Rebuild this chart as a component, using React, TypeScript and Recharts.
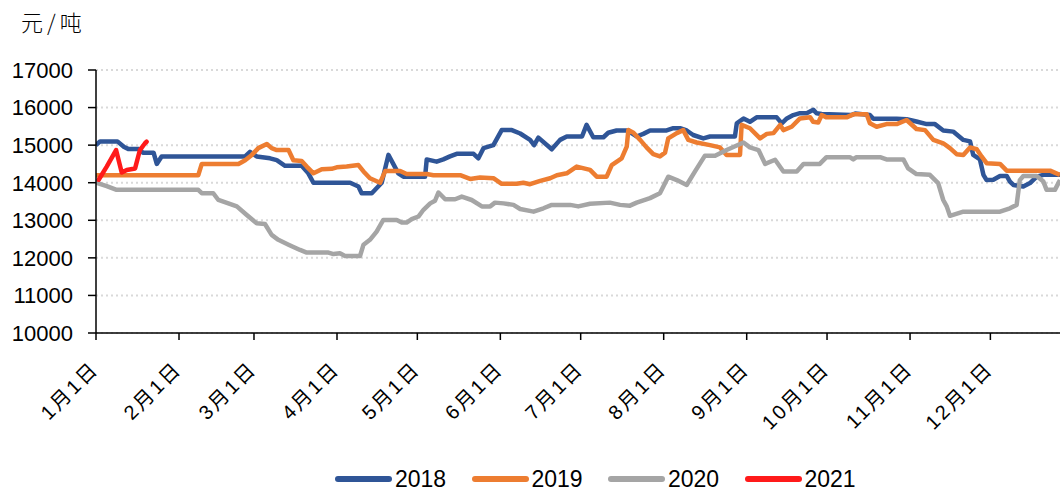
import React from "react";
import { LineChart, Line, XAxis, YAxis, CartesianGrid, Legend } from "recharts";

// ---- Axis definitions ----
const tickDays = [0, 31, 59, 90, 120, 151, 181, 212, 243, 273, 304, 334];
const tickLabels = ["1月1日", "2月1日", "3月1日", "4月1日", "5月1日", "6月1日", "7月1日", "8月1日", "9月1日", "10月1日", "11月1日", "12月1日"];
const yTicks = [10000, 11000, 12000, 13000, 14000, 15000, 16000, 17000];
const unitLabel = "元/吨";

// ---- 2018 ----
const days2018 = [0, 1.5, 8, 10.5, 12, 16, 17.5, 21.5, 22.7, 24.5, 55.7, 57.5, 60, 65, 67.5, 70.6, 76.8, 79.3, 81.2, 94.9, 98, 99.2, 103, 106.7, 109.2, 112.9, 114.8, 122.9, 123.5, 127.2, 129.7, 132.2, 134.7, 141, 142.8, 144.7, 148.4, 151.5, 155.3, 158.4, 162.1, 163.6, 165.2, 170.2, 173.3, 175.8, 181.5, 183.2, 185.7, 189.5, 191.3, 194.4, 198.8, 200, 201.9, 204.4, 206.9, 213.1, 215.6, 218.1, 220.6, 223, 226.8, 229.3, 238.6, 239.3, 241.8, 244.2, 246.7, 254.2, 256.1, 258, 260.4, 262.9, 265.4, 267.9, 269.1, 271, 282, 283.5, 289, 290.3, 299, 302.7, 306.4, 310.2, 313.3, 316.4, 320.1, 323.9, 326.4, 327.6, 330.1, 331.4, 332.6, 335.1, 337.6, 340.1, 341.3, 342.6, 346.3, 348.8, 351.3, 353.8, 360];
const values2018 = [15000, 15100, 15100, 14950, 14900, 14900, 14800, 14800, 14500, 14700, 14700, 14820, 14700, 14650, 14600, 14450, 14450, 14250, 14000, 14000, 13900, 13720, 13720, 14000, 14740, 14250, 14160, 14160, 14620, 14560, 14620, 14700, 14770, 14770, 14650, 14920, 15000, 15400, 15400, 15310, 15140, 15000, 15200, 14890, 15140, 15230, 15230, 15540, 15210, 15210, 15330, 15390, 15390, 15320, 15230, 15300, 15390, 15390, 15450, 15450, 15390, 15270, 15180, 15230, 15230, 15580, 15710, 15620, 15740, 15740, 15580, 15710, 15800, 15850, 15850, 15940, 15850, 15830, 15800, 15840, 15800, 15700, 15700, 15690, 15630, 15560, 15560, 15390, 15360, 15140, 15100, 14740, 14620, 14210, 14070, 14080, 14180, 14180, 14030, 13940, 13900, 13990, 14160, 14210, 14210];

// ---- 2019 ----
const days2019 = [0, 38.2, 39.5, 53.2, 55.7, 58.2, 60.6, 63.8, 65.6, 67.5, 71.9, 73.7, 76.8, 78.7, 81.2, 84.3, 88, 89.9, 93.6, 98, 99.9, 102.3, 106.1, 108, 113.6, 116, 123.5, 126, 136, 139.7, 143.4, 148.4, 151.5, 157.1, 159.6, 162.1, 165.9, 169.6, 172.1, 175.8, 179.5, 184.5, 187, 190.7, 192.6, 196.3, 198.2, 198.8, 200.7, 203.2, 205.6, 208.1, 210.6, 212.5, 213.7, 216.9, 219.3, 221.2, 224.3, 229.3, 233, 235.5, 240.5, 241.1, 244.2, 248, 250.5, 253, 255.5, 256.7, 259.8, 262.9, 266.7, 267.8, 269.7, 271, 272.8, 280.3, 282.8, 287.8, 289, 291.5, 295.2, 299, 302.7, 306.4, 309.6, 312.7, 316.4, 318.9, 321.4, 323.9, 326.4, 328.9, 330.7, 332.6, 337.6, 340.1, 356.3, 360];
const values2019 = [14200, 14200, 14500, 14500, 14600, 14740, 14920, 15030, 14920, 14870, 14870, 14600, 14580, 14430, 14250, 14360, 14370, 14410, 14430, 14470, 14300, 14120, 14000, 14310, 14310, 14230, 14230, 14200, 14200, 14100, 14140, 14120, 13970, 13970, 14000, 13960, 14050, 14120, 14200, 14250, 14430, 14340, 14160, 14160, 14470, 14650, 14960, 15400, 15330, 15140, 14940, 14760, 14700, 14800, 15180, 15320, 15400, 15140, 15070, 15000, 14940, 14740, 14740, 15540, 15450, 15180, 15300, 15320, 15540, 15400, 15490, 15710, 15740, 15620, 15600, 15800, 15740, 15740, 15820, 15820, 15580, 15490, 15560, 15560, 15670, 15430, 15400, 15140, 15050, 14920, 14760, 14740, 14940, 14890, 14700, 14520, 14500, 14320, 14320, 14210];

// ---- 2020 ----
const days2020 = [0, 4, 7.7, 38.2, 39.5, 43.8, 45.7, 52.6, 56.3, 60, 63.1, 65.6, 68.1, 71.9, 76.2, 78.7, 86.8, 88.7, 91.1, 93, 98.6, 99.9, 102.3, 104.8, 107.3, 112.3, 114.2, 116, 117.9, 120.4, 122.3, 124.8, 126.6, 127.9, 130.4, 134.1, 136.6, 140.3, 144.1, 147.2, 149, 152.2, 155.9, 158.4, 163.4, 167.1, 170.2, 177.1, 180.1, 184.5, 191.9, 195.7, 199.4, 201.9, 206.9, 210.6, 213.7, 216.9, 220.6, 223.7, 227.4, 231.2, 235.5, 241.8, 244.2, 247.4, 249.9, 253.6, 256.7, 261.7, 264.2, 270.3, 272.8, 281.5, 282.8, 284, 292.8, 295.2, 301.5, 303.3, 306.4, 311.4, 314.5, 316.4, 317.7, 318.9, 323.9, 337.6, 341.3, 343.8, 345, 346.3, 351.3, 353.8, 355, 358.1, 360];
const values2020 = [14000, 13910, 13810, 13810, 13720, 13720, 13540, 13370, 13140, 12920, 12900, 12610, 12480, 12350, 12210, 12140, 12140, 12100, 12120, 12050, 12050, 12350, 12480, 12700, 13010, 13010, 12940, 12940, 13030, 13100, 13280, 13450, 13520, 13740, 13560, 13560, 13630, 13540, 13370, 13370, 13470, 13450, 13410, 13300, 13230, 13320, 13410, 13410, 13370, 13440, 13470, 13410, 13390, 13470, 13590, 13720, 14160, 14070, 13940, 14300, 14720, 14720, 14870, 15070, 14940, 14870, 14500, 14610, 14300, 14300, 14500, 14500, 14680, 14680, 14620, 14680, 14680, 14620, 14620, 14380, 14230, 14210, 13990, 13540, 13370, 13120, 13230, 13230, 13320, 13410, 14070, 14180, 14180, 14030, 13810, 13810, 14070];

// ---- 2021 ----
const days2021 = [1, 4, 7.5, 9.6, 11.5, 14.6, 16.4, 18.3, 18.9];
const values2021 = [14080, 14430, 14870, 14270, 14340, 14380, 14870, 15050, 15090];

const toData = (days: number[], vals: number[]) => days.map((d, i) => ({ d, v: vals[i] }));
const data2018 = toData(days2018, values2018);
const data2019 = toData(days2019, values2019);
const data2020 = toData(days2020, values2020);
const data2021 = toData(days2021, values2021);

const AXIS_FONT = '"Liberation Sans", Arial, sans-serif';
const CJK_FONT = '"Liberation Sans", "Noto Sans CJK SC", sans-serif';

const XTick = (props: any) => {
  const { x, y, payload } = props;
  const idx = tickDays.indexOf(payload.value);
  const label = idx >= 0 ? tickLabels[idx] : "";
  return (
    <g transform={`translate(${x + 4},${y + 28})`}>
      <text
        x={0}
        y={0}
        textAnchor="end"
        transform="rotate(-45)"
        fontSize={20}
        letterSpacing={2.5}
        fontFamily={CJK_FONT}
        fill="#000"
      >
        {label}
      </text>
    </g>
  );
};

const UnitLabel = () => (
  <text x={21} y={31} fontSize={22} fontFamily='"Noto Sans CJK SC", sans-serif' fontWeight={300} fill="#000" letterSpacing={4}>
    {unitLabel}
  </text>
);

const LegendContent = (props: any) => {
  const { payload } = props;
  return (
    <div style={{ position: "relative", height: 30, width: 1060 }}>
      {(payload || []).map((entry: any, i: number) => (
        <div
          key={entry.value}
          style={{
            position: "absolute",
            left: 335 + i * 136.5,
            top: 0,
            height: 30,
            display: "flex",
            alignItems: "center",
          }}
        >
          <span
            style={{
              display: "inline-block",
              width: 57,
              height: 5.5,
              borderRadius: 3,
              background: entry.color,
              marginRight: 3,
            }}
          />
          <span style={{ fontFamily: AXIS_FONT, fontSize: 23, color: "#000", lineHeight: "30px" }}>{entry.value}</span>
        </div>
      ))}
    </div>
  );
};

export default function App() {
  return (
    <div style={{ position: "absolute", left: 0, top: 0, width: 1060, height: 494, overflow: "hidden", background: "#fff" }}>
      <LineChart width={1060} height={494} margin={{ top: 70, right: 0, bottom: 0, left: 0 }}>
        <CartesianGrid vertical={false} stroke="#D9D9D9" strokeWidth={2} strokeDasharray="2 3" />
        <XAxis
          dataKey="d"
          type="number"
          domain={[0, 360]}
          ticks={tickDays}
          interval={0}
          height={131}
          tickSize={7}
          tickMargin={2}
          tick={<XTick />}
          axisLine={{ stroke: "#000", strokeWidth: 1.5 }}
          tickLine={{ stroke: "#000", strokeWidth: 1.5 }}
          allowDataOverflow
        />
        <YAxis
          domain={[10000, 17000]}
          ticks={yTicks}
          interval={0}
          width={96}
          tickSize={8}
          tickMargin={15}
          tick={{ fontSize: 22, fill: "#000", fontFamily: AXIS_FONT }}
          axisLine={{ stroke: "#000", strokeWidth: 1.5 }}
          tickLine={{ stroke: "#000", strokeWidth: 1.5 }}
          label={<UnitLabel />}
          allowDataOverflow
        />
        <Legend verticalAlign="bottom" align="left" height={30} content={<LegendContent />} />
        <Line data={data2018} dataKey="v" name="2018" type="linear" stroke="#2F5597" strokeWidth={4.5} dot={false} strokeLinejoin="round" isAnimationActive={false} />
        <Line data={data2019} dataKey="v" name="2019" type="linear" stroke="#ED7D31" strokeWidth={4.5} dot={false} strokeLinejoin="round" isAnimationActive={false} />
        <Line data={data2020} dataKey="v" name="2020" type="linear" stroke="#A5A5A5" strokeWidth={4.5} dot={false} strokeLinejoin="round" isAnimationActive={false} />
        <Line data={data2021} dataKey="v" name="2021" type="linear" stroke="#FF1A1A" strokeWidth={4.5} dot={false} strokeLinejoin="round" strokeLinecap="round" isAnimationActive={false} />
      </LineChart>
    </div>
  );
}
